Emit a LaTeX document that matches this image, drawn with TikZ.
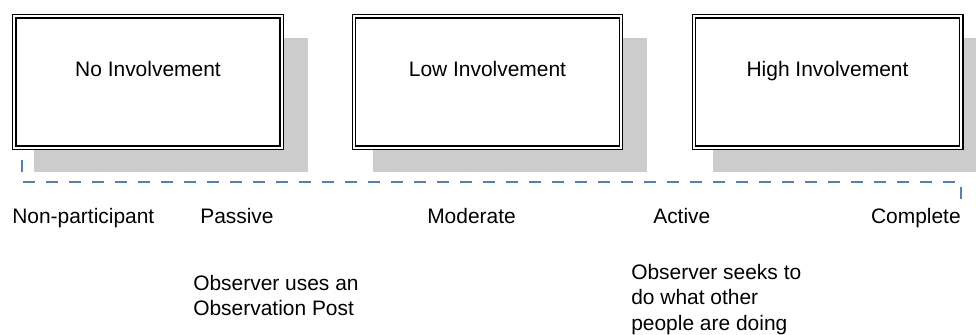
\documentclass[tikz,border=0pt]{standalone}
\usepackage{fontspec}
\setmainfont{Liberation Sans}
\usepackage{tikz}
\usetikzlibrary{shadows}
\definecolor{scaleblue}{HTML}{4F81BD}
\definecolor{shadowgray}{HTML}{CCCCCC}

\begin{document}
\begin{tikzpicture}[x=0.25mm,y=-0.25mm,
  font=\fontsize{14.9pt}{17.8pt}\selectfont,
  level/.style={draw=black, double, line width=1pt, double distance=1.4pt, fill=white,
    minimum width=66.8mm, minimum height=32.8mm, text height=3.75mm, text depth=6.75mm,
    drop shadow={shadow xshift=5.56mm, shadow yshift=-5.62mm, shadow scale=1.025, fill=shadowgray, opacity=1}},
  tag/.style={anchor=base west, inner sep=0pt},
  note/.style={anchor=north west, inner sep=0pt, align=left},
  scaleline/.style={draw=scaleblue, line width=1.07pt, dash pattern=on 3mm off 2.75mm}]
\useasboundingbox (0,0) rectangle (976,334);
% ----- involvement levels
\node[level] (none) at (148,82) {No Involvement};
\node[level] (low) at (487.5,82) {Low Involvement};
\node[level] (high) at (827.5,82) {High Involvement};
% ----- participation scale
\coordinate (scaleL) at (22,160);
\coordinate (scaleR) at (961,201);
\draw[scaleline] (scaleL) |- (scaleR |- 0,182) -- (scaleR);
\node[tag] (nonpart) at (12,223) {Non-participant};
\node[tag] (passive) at (200,223) {Passive};
\node[tag] (moderate) at (427,223) {Moderate};
\node[tag] (active) at (653,223) {Active};
\node[tag, anchor=base east] (complete) at (961,223) {Complete};
% ----- notes
\node[note] (postnote) at (193,275) {Observer uses an\\Observation Post};
\node[note] (doingnote) at (631,264.5) {Observer seeks to\\do what other\\people are doing};
\end{tikzpicture}
\end{document}
